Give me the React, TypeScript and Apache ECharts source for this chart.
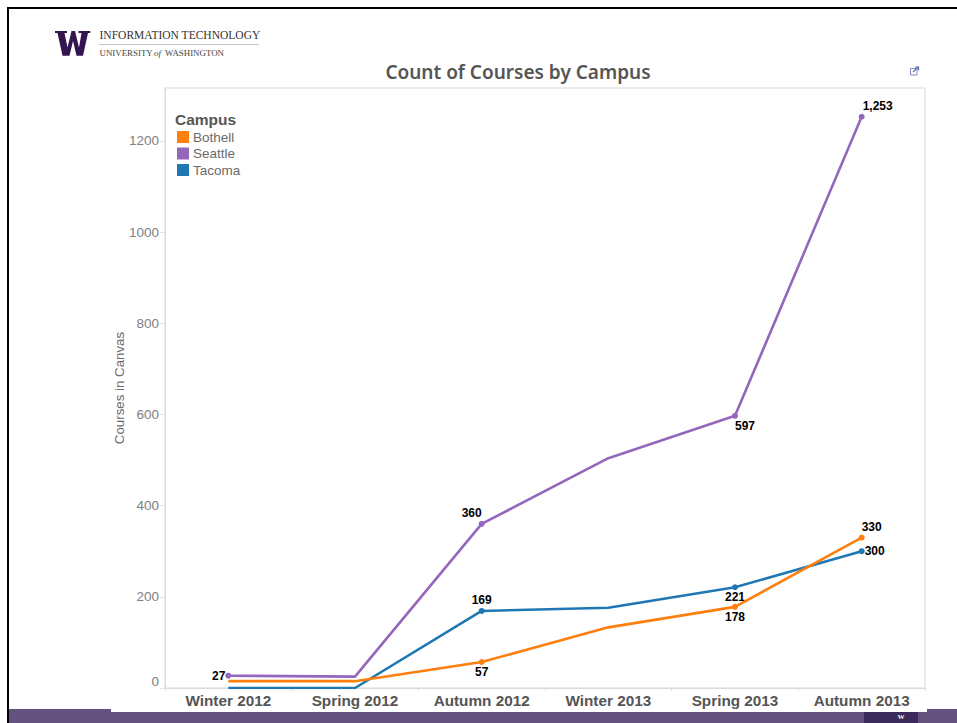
import React, { useEffect, useRef } from "react";
import * as echarts from "echarts";

const categories = ["Winter 2012", "Spring 2012", "Autumn 2012", "Winter 2013", "Spring 2013", "Autumn 2013"];
const bothell = [15, 15, 57, 133, 178, 330];
const seattle = [27, 25, 360, 504, 597, 1253];
const tacoma = [0, 0, 169, 176, 221, 300];
const yTicks = [0, 200, 400, 600, 800, 1000, 1200];

const SANS = "'Liberation Sans', Arial, sans-serif";
const SERIF = "'Liberation Serif', serif";

type Mark = [number, string, number, number];

function makeSeries(name: string, values: number[], color: string, marks: Mark[], z: number) {
  return {
    name,
    type: "line",
    z,
    showSymbol: true,
    symbol: "circle",
    clip: true,
    color,
    lineStyle: { color, width: 2.6 },
    data: values.map((value, i) => {
      const m = marks.find((k) => k[0] === i);
      if (!m) return { value, symbol: "none", label: { show: false } };
      return {
        value,
        symbol: "circle",
        symbolSize: 6,
        label: {
          show: true,
          position: m[1],
          offset: [m[2], m[3]],
          distance: 2,
          formatter: () => value.toLocaleString("en-US"),
          color: "#000",
          fontFamily: SANS,
          fontWeight: "bold",
          fontSize: 12,
        },
      };
    }),
  };
}

export default function App() {
  const ref = useRef<HTMLDivElement>(null);
  useEffect(() => {
    document.body.style.margin = "0";
    const chart = echarts.init(ref.current!, null, { renderer: "svg" });
    const w: number[][] = [
      [55, 31], [67, 31], [67, 33], [64.5, 33], [67.5, 47.5], [71.5, 31], [75, 31], [79, 47.5], [81.5, 33],
      [78.5, 33], [78.5, 31], [90.3, 31], [90.3, 33], [88, 33], [83, 55.7], [76.5, 55.7], [73, 41], [69.5, 55.7],
      [62.5, 55.7], [57.5, 33], [55, 33],
    ];
    const purple = "#66527f";
    chart.setOption({
      animation: false,
      backgroundColor: "#fff",
      title: {
        text: "Count of Courses by Campus",
        left: 513,
        top: 57,
        textAlign: "center",
        textStyle: { fontFamily: "'Noto Sans', sans-serif", fontSize: 19, fontWeight: 600, color: "#555" },
      },
      legend: {
        orient: "vertical",
        left: 177,
        top: 130,
        icon: "rect",
        itemWidth: 12,
        itemHeight: 12,
        itemGap: 2.5,
        padding: 0,
        data: ["Bothell", "Seattle", "Tacoma"],
        textStyle: { fontFamily: SANS, fontSize: 13.5, color: "#6b6b6b", padding: [0, 0, 0, -1] },
      },
      grid: { left: 165, right: 32, top: 88, bottom: 35, show: true, borderColor: "#e6e6e6", borderWidth: 1.5 },
      xAxis: {
        type: "category",
        data: categories,
        boundaryGap: true,
        axisLine: { lineStyle: { color: "#dcdcdc", width: 1 } },
        axisTick: { show: true, length: 3, lineStyle: { color: "#dcdcdc" } },
        axisLabel: { color: "#555", fontFamily: SANS, fontWeight: "bold", fontSize: 15.3, margin: 5, interval: 0 },
        splitLine: { show: false },
      },
      yAxis: {
        type: "value",
        min: yTicks[0],
        max: 1316,
        interval: 200,
        name: "Courses in Canvas",
        nameLocation: "middle",
        nameGap: 46,
        nameMoveOverlap: false,
        nameTextStyle: { color: "#6b6b6b", fontFamily: SANS, fontSize: 13.3, verticalAlign: "middle" },
        axisLine: { show: true, lineStyle: { color: "#dcdcdc", width: 1 } },
        axisTick: { show: true, length: 5, lineStyle: { color: "#e3e3e3" } },
        axisLabel: {
          color: "#808080",
          fontFamily: SANS,
          fontSize: 13.5,
          margin: 6,
          formatter: (v: number) => String(v),
          showMaxLabel: false,
          verticalAlignMinLabel: "bottom",
        },
        splitLine: { show: false },
      },
      series: [
        makeSeries("Seattle", seattle, "#9467bd", [
          [0, "left", 2, 0],
          [2, "top", -10, 0],
          [4, "bottom", 10, -1],
          [5, "top", 16, 0],
        ], 2),
        makeSeries("Tacoma", tacoma, "#1f77b4", [
          [2, "top", 0, 0],
          [4, "bottom", 0, -1],
          [5, "right", -2, 0],
        ], 3),
        makeSeries("Bothell", bothell, "#ff7f0e", [
          [2, "bottom", 0, -1],
          [4, "bottom", 0, -1],
          [5, "top", 10, 0],
        ], 4),
      ],
      graphic: [
        { type: "rect", z: -1, shape: { x: 7, y: 7, width: 950, height: 2 }, style: { fill: "#000" } },
        { type: "rect", z: -1, shape: { x: 7, y: 7, width: 2, height: 716 }, style: { fill: "#000" } },
        { type: "rect", z: -1, shape: { x: 9, y: 709, width: 102, height: 14 }, style: { fill: purple } },
        { type: "rect", z: -1, shape: { x: 111, y: 712, width: 816, height: 11 }, style: { fill: purple } },
        { type: "rect", z: -1, shape: { x: 927, y: 709, width: 30, height: 14 }, style: { fill: purple } },
        { type: "rect", z: -1, shape: { x: 864, y: 712, width: 54, height: 11 }, style: { fill: "#3b2a5c" } },
        {
          type: "text", z: 0, x: 901, y: 713,
          style: { text: "W", fill: "#fff", font: "bold 7px 'Liberation Serif', serif", textAlign: "center" },
        },
        { type: "polygon", shape: { points: w }, style: { fill: "#33164f" } },
        {
          type: "text", x: 99.5, y: 29, scaleX: 0.93,
          style: { text: "INFORMATION TECHNOLOGY", fill: "#333", font: `12.4px ${SERIF}` },
        },
        { type: "rect", shape: { x: 99, y: 44, width: 160, height: 1 }, style: { fill: "#c4c4c4" } },
        {
          type: "text", x: 99.5, y: 48,
          style: { text: "UNIVERSITY ", fill: "#444", font: `8.9px ${SERIF}` },
        },
        {
          type: "text", x: 154, y: 48,
          style: { text: "of", fill: "#444", font: `italic 9px ${SERIF}` },
        },
        {
          type: "text", x: 165, y: 48,
          style: { text: "WASHINGTON", fill: "#444", font: `8.9px ${SERIF}` },
        },
        {
          type: "text", x: 175, y: 111,
          style: { text: "Campus", fill: "#555", font: `bold 15.5px ${SANS}` },
        },
        { type: "rect", shape: { x: 910.5, y: 68.5, width: 6.5, height: 6.5 }, style: { fill: "none", stroke: "#7f8fc0", lineWidth: 1 } },
        { type: "line", shape: { x1: 913, y1: 72, x2: 918.5, y2: 66.8 }, style: { stroke: "#5a73b0", lineWidth: 1.2 } },
        { type: "polyline", shape: { points: [[915, 67], [918.5, 67], [918.5, 70.5]] }, style: { fill: "none", stroke: "#5a73b0", lineWidth: 1.2 } },
      ],
    });
    return () => chart.dispose();
  }, []);
  return <div ref={ref} style={{ width: 957, height: 723 }} />;
}
